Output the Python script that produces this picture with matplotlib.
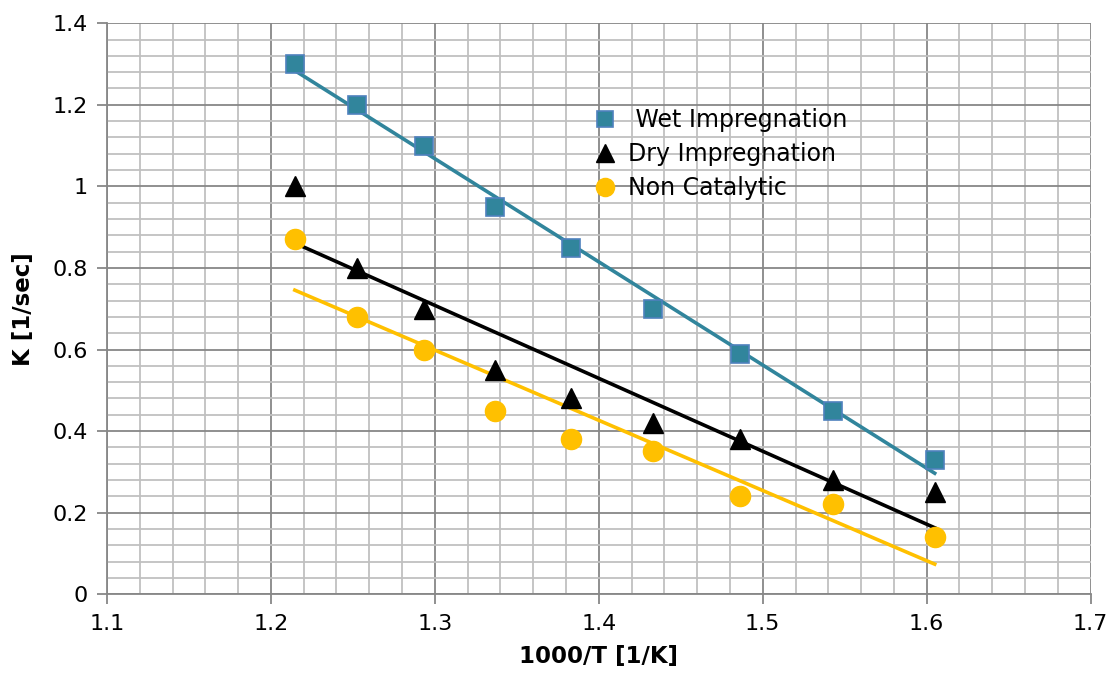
import matplotlib
matplotlib.use("Agg")
import matplotlib.pyplot as plt
import numpy as np
from matplotlib.ticker import MultipleLocator

# 1000/T values shared by all three series
inv_t = [1.2146, 1.2524, 1.2933, 1.3366, 1.3829, 1.4329, 1.486, 1.5427, 1.6049]

k_wet = [1.30, 1.20, 1.10, 0.95, 0.85, 0.70, 0.59, 0.45, 0.33]
k_dry = [1.00, 0.80, 0.70, 0.55, 0.48, 0.42, 0.38, 0.28, 0.25]
k_non = [0.87, 0.68, 0.60, 0.45, 0.38, 0.35, 0.24, 0.22, 0.14]

labels = [" Wet Impregnation", "Dry Impregnation", "Non Catalytic"]

TEAL = "#31859C"
YELLOW = "#FFC000"

fig = plt.figure(figsize=(11.14, 6.83), dpi=100)
ax = fig.add_axes([0.096, 0.130, 0.883, 0.836])

x = np.array(inv_t)
xs = np.array([x.min(), x.max()])

series = [
    (k_wet, dict(marker="s", ms=13.5, mfc=TEAL, mec="#4F81BD", mew=1.2), TEAL),
    (k_dry, dict(marker="^", ms=15, mfc="black", mec="black"), "black"),
    (k_non, dict(marker="o", ms=14.5, mfc=YELLOW, mec=YELLOW), YELLOW),
]

for (y, mstyle, lc), lab in zip(series, labels):
    # linear trendline (least squares)
    p = np.polyfit(x, y, 1)
    ax.plot(xs, np.polyval(p, xs), color=lc, lw=2.6, zorder=3)
    ax.plot(x, y, ls="none", label=lab, zorder=4, **mstyle)

ax.set_xlim(1.1, 1.7)
ax.set_ylim(0, 1.4)
ax.xaxis.set_minor_locator(MultipleLocator(0.02))
ax.yaxis.set_minor_locator(MultipleLocator(0.04))
ax.set_xticks(np.arange(1.1, 1.71, 0.1))
ax.set_xticklabels([f"{v:.1f}" for v in np.arange(1.1, 1.71, 0.1)])
ax.set_yticks(np.arange(0, 1.41, 0.2))
ax.set_yticklabels(["0"] + [f"{v:g}" for v in np.round(np.arange(0.2, 1.41, 0.2), 1)])

ax.grid(which="major", color="#878787", lw=1.3, zorder=0)
ax.grid(which="minor", color="#C0C0C0", lw=1.3, zorder=0)
ax.set_axisbelow(True)

for s in ["top", "right"]:
    ax.spines[s].set_visible(False)
for s in ["left", "bottom"]:
    ax.spines[s].set_color("#878787")
    ax.spines[s].set_linewidth(1.3)

ax.tick_params(which="major", length=7, width=1.3, color="#878787",
               labelsize=16, pad=7)
ax.tick_params(which="minor", length=0)

ax.set_xlabel("1000/T [1/K]", fontsize=16.5, fontweight="bold", labelpad=8)
ax.set_ylabel("K [1/sec]", fontsize=16.5, fontweight="bold", labelpad=12)

leg = ax.legend(loc="upper left", bbox_to_anchor=(0.476, 0.880), frameon=False,
                fontsize=17, handletextpad=0.45, labelspacing=0.42,
                borderpad=0.2, handlelength=1.1, markerscale=0.9)

fig.savefig("out.png", dpi=100)
